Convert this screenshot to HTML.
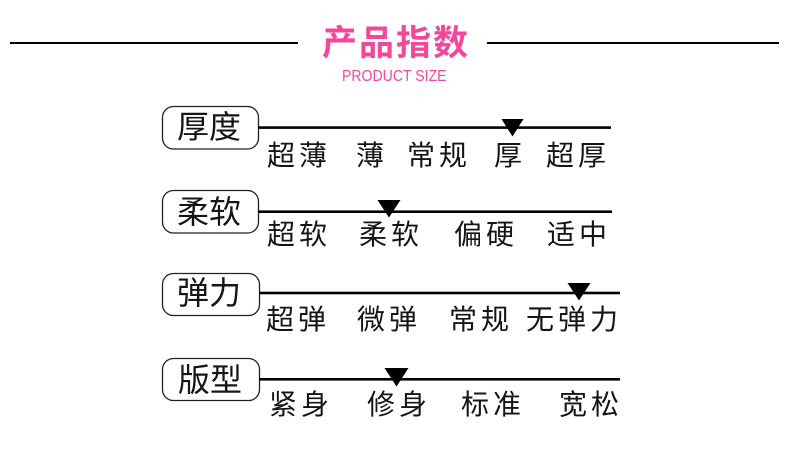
<!DOCTYPE html>
<html><head><meta charset="utf-8">
<style>
html,body{margin:0;padding:0;background:#fff;}
body{width:790px;height:464px;position:relative;overflow:hidden;}
.t{position:absolute;white-space:nowrap;font-family:"Liberation Sans","Noto Sans CJK SC",sans-serif;color:#151515;}
.lb{font-size:28px;line-height:28px;letter-spacing:4px;}
.bx{font-size:32px;line-height:32px;letter-spacing:0px;}
svg{position:absolute;left:0;top:0;}
</style></head><body>
<svg width="790" height="464" viewBox="0 0 790 464">
  <rect x="10" y="42" width="288" height="2" fill="#000"/>
  <rect x="487" y="42" width="292" height="2" fill="#000"/>
  <rect x="162.5" y="106.5" width="96" height="42.5" rx="11" ry="11" fill="none" stroke="#222" stroke-width="1.3"/>
  <rect x="258" y="126.3" width="353" height="2.6" fill="#000"/>
  <polygon points="501.5,119 523.5,119 512.5,136.5" fill="#000"/>
  <rect x="162.5" y="190.5" width="96" height="42.5" rx="11" ry="11" fill="none" stroke="#222" stroke-width="1.3"/>
  <rect x="258" y="210.4" width="354" height="2.6" fill="#000"/>
  <polygon points="377.5,200 400.5,200 389,217.5" fill="#000"/>
  <rect x="162.5" y="273.5" width="97" height="42" rx="11" ry="11" fill="none" stroke="#222" stroke-width="1.3"/>
  <rect x="259" y="291.7" width="361" height="2.6" fill="#000"/>
  <polygon points="567.5,283 590.5,283 579,300.5" fill="#000"/>
  <rect x="162.5" y="358.5" width="97" height="42" rx="11" ry="11" fill="none" stroke="#222" stroke-width="1.3"/>
  <rect x="259" y="378" width="361" height="2.6" fill="#000"/>
  <polygon points="384.5,368 408.5,368 396.5,386.5" fill="#000"/>
</svg>

<div class="t" style="left:322px;top:26px;font-size:35px;line-height:35px;letter-spacing:2px;font-weight:bold;color:#f2479b;">产品指数</div>
<div class="t" style="left:342px;top:69px;font-size:16px;line-height:16px;color:#f2479b;transform:scaleX(0.88);transform-origin:0 0;">PRODUCT SIZE</div>

<div class="t bx" style="left:177px;top:111px;">厚度</div>
<div class="t lb" style="left:267px;top:142px;">超薄</div>
<div class="t lb" style="left:356px;top:142px;">薄</div>
<div class="t lb" style="left:407px;top:142px;">常规</div>
<div class="t lb" style="left:494px;top:142px;">厚</div>
<div class="t lb" style="left:546px;top:142px;">超厚</div>

<div class="t bx" style="left:177px;top:196px;">柔软</div>
<div class="t lb" style="left:267px;top:221px;">超软</div>
<div class="t lb" style="left:359px;top:221px;">柔软</div>
<div class="t lb" style="left:454px;top:221px;">偏硬</div>
<div class="t lb" style="left:547px;top:221px;">适中</div>

<div class="t bx" style="left:177px;top:277px;">弹力</div>
<div class="t lb" style="left:266px;top:306px;">超弹</div>
<div class="t lb" style="left:357px;top:306px;">微弹</div>
<div class="t lb" style="left:449px;top:306px;">常规</div>
<div class="t lb" style="left:526px;top:306px;">无弹力</div>

<div class="t bx" style="left:178px;top:364px;">版型</div>
<div class="t lb" style="left:269px;top:391px;">紧身</div>
<div class="t lb" style="left:367px;top:391px;">修身</div>
<div class="t lb" style="left:461px;top:391px;">标准</div>
<div class="t lb" style="left:559px;top:391px;">宽松</div>
</body></html>
